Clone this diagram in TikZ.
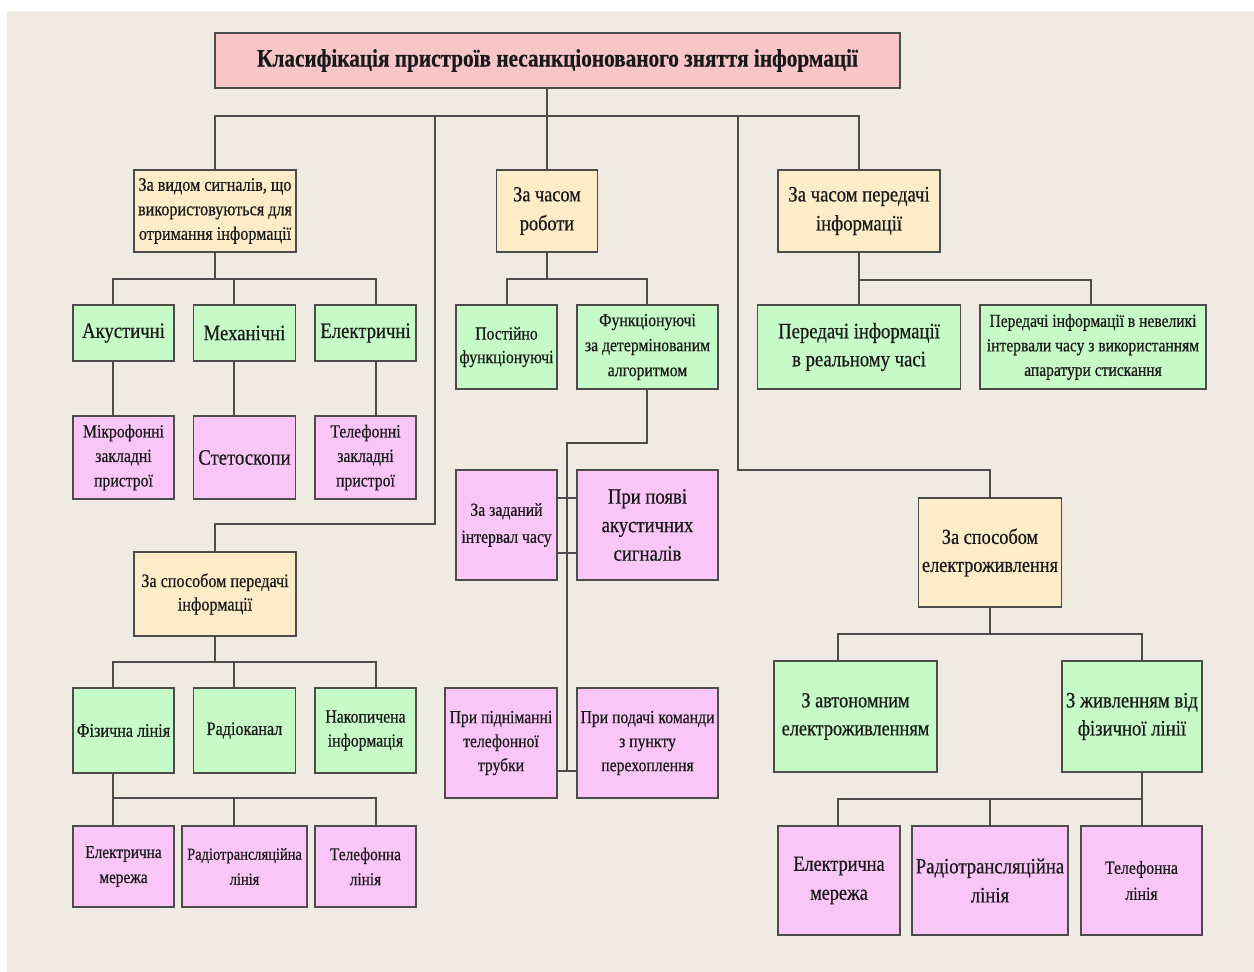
\documentclass[tikz,border=0pt]{standalone}
\usepackage{fontspec}
\setmainfont{Liberation Serif}[FakeStretch=0.85, FakeBold=0.5]
\usetikzlibrary{positioning}
\definecolor{bgcol}{HTML}{EFEBE3}
\definecolor{edge}{HTML}{4C4C4C}
\definecolor{headcol}{HTML}{F9C6C8}
\definecolor{catcol}{HTML}{FDECC8}
\definecolor{leafcol}{HTML}{C6FAC6}
\definecolor{devcol}{HTML}{F9C6F7}
\begin{document}
\begin{tikzpicture}[x=1pt, y=-1pt, node distance=121pt,
        main/.style = {draw=edge, line width=1.8pt, align=center, inner sep=1pt, text=black!90},
        head/.style = {main, fill=headcol},
        cat/.style = {main, fill=catcol},
        leaf/.style = {main, fill=leafcol},
        dev/.style = {main, fill=devcol},
        wh/.style 2 args = {minimum width=#1pt, minimum height=#2pt},
        fs/.style 2 args = {font=\fontsize{#1}{#2}\selectfont},
        link/.style = {draw=edge, line width=2pt}]
        \useasboundingbox (0,0) rectangle (1254,972);
        \fill[white] (0,0) rectangle (1254,972);
        \fill[bgcol] (7,11) rectangle (1254,972);

        \node[head, wh={685}{55}, fs={25}{28}] (t) at (557.5,60.5) {\bfseries Класифікація пристроїв несанкціонованого зняття інформації};

        % left column
        \node[cat, wh={162}{82}, fs={19}{24.5}] (c1) at (215,211) {За видом сигналів, що\\використовуються для\\отримання інформації};
        \node[leaf, wh={101}{56}, fs={22}{26}] (g11) at (123.5,333) {Акустичні};
        \node[leaf, wh={102}{56}, fs={22}{26}] (g12) [right of=g11] {Механічні};
        \node[leaf, wh={101}{56}, fs={22}{26}] (g13) [right of=g12] {Електричні};
        \node[dev, wh={101}{83}, fs={18.5}{24.5}] (v11) at (123.5,457.5) {Мікрофонні\\закладні\\пристрої};
        \node[dev, wh={102}{83}, fs={22}{26}] (v12) [right of=v11] {Стетоскопи};
        \node[dev, wh={101}{83}, fs={18.5}{24.5}] (v13) [right of=v12] {Телефонні\\закладні\\пристрої};

        \node[cat, wh={162}{84}, fs={19}{23.5}] (c4) at (215,594) {За способом передачі\\інформації};
        \node[leaf, wh={101}{85}, fs={19}{24}] (g41) at (123.5,730.5) {Фізична лінія};
        \node[leaf, wh={102}{85}, fs={19}{24}] (g42) [right of=g41] {Радіоканал};
        \node[leaf, wh={101}{85}, fs={18.5}{24}] (g43) [right of=g42] {Накопичена\\інформація};
        \node[dev, wh={101}{81}, fs={18}{25}] (v41) at (123.5,866.5) {Електрична\\мережа};
        \node[dev, wh={125}{81}, fs={17}{25}] (v42) at (244.5,866.5) {Радіотрансляційна\\лінія};
        \node[dev, wh={101}{81}, fs={18}{25}] (v43) at (365.5,866.5) {Телефонна\\лінія};

        % middle column
        \node[cat, wh={101}{82}, fs={21.5}{29}] (c2) at (547,211) {За часом\\роботи};
        \node[leaf, wh={101}{84}, fs={18.5}{23.5}] (g21) at (506.5,347) {Постійно\\функціонуючі};
        \node[leaf, wh={141}{84}, fs={18.5}{25}] (g22) at (647.5,347) {Функціонуючі\\за детермінованим\\алгоритмом};
        \node[dev, wh={101}{110}, fs={18.5}{27}] (v21) at (506.5,525) {За заданий\\інтервал часу};
        \node[dev, wh={141}{110}, fs={22}{28.5}] (v22) at (647.5,525) {При появі\\акустичних\\сигналів};
        \node[dev, wh={112}{110}, fs={18.4}{24}] (v23) at (501,743) {При підніманні\\телефонної\\трубки};
        \node[dev, wh={141}{110}, fs={18.5}{24}] (v24) at (647.5,743) {При подачі команди\\з пункту\\перехоплення};

        % right column
        \node[cat, wh={162}{82}, fs={22}{29}] (c3) at (859,211) {За часом передачі\\інформації};
        \node[leaf, wh={203}{84}, fs={22}{28}] (g31) at (859,347) {Передачі інформації\\в реальному часі};
        \node[leaf, wh={226}{84}, fs={18.3}{24.5}] (g32) at (1093,347) {Передачі інформації в невеликі\\інтервали часу з використанням\\апаратури стискання};

        \node[cat, wh={143}{109}, fs={21.5}{28}] (c5) at (990,552.5) {За способом\\електроживлення};
        \node[leaf, wh={163}{111}, fs={21.5}{28}] (g51) at (855.5,716.5) {З автономним\\електроживленням};
        \node[leaf, wh={140}{111}, fs={22}{28}] (g52) at (1132,716.5) {З живленням від\\фізичної лінії};
        \node[dev, wh={122}{109}, fs={21.5}{29}] (v51) at (839,880.5) {Електрична\\мережа};
        \node[dev, wh={156}{109}, fs={22}{29}] (v52) at (990,880.5) {Радіотрансляційна\\лінія};
        \node[dev, wh={121}{109}, fs={18.5}{26}] (v53) at (1141.5,880.5) {Телефонна\\лінія};

        \coordinate (k1) at (435,524);
        \coordinate (k2) at (738,470);
        \coordinate (k3) at (567,443);
        \coordinate (k4) at (567,771);

        % top level
        \foreach \n in {c1,c2,c3}{
            \draw[link] ([xshift=-10.5]t.south) -- ++(0,27) -| (\n.north);
        }
        \draw[link] ([xshift=-10.5]t.south) -- ++(0,27) -| (k1) -| (c4.north);
        \draw[link] ([xshift=-10.5]t.south) -- ++(0,27) -| (k2) -| (c5.north);

        % left
        \foreach \n/\d in {g11/-10.5,g12/-10.5,g13/10.5}{
            \draw[link] (c1.south) -- ++(0,26) -| ([xshift=\d]\n.north);
        }
        \foreach \g/\v/\d in {g11/v11/-10.5,g12/v12/-10.5,g13/v13/10.5}{
            \draw[link] ([xshift=\d]\g.south) -- ([xshift=\d]\v.north);
        }
        \foreach \n/\d in {g41/-10.5,g42/-10.5,g43/10.5}{
            \draw[link] (c4.south) -- ++(0,25) -| ([xshift=\d]\n.north);
        }
        \foreach \n/\d in {v41/-10.5,v42/-10.5,v43/10.5}{
            \draw[link] ([xshift=-10.5]g41.south) -- ++(0,24) -| ([xshift=\d]\n.north);
        }

        % middle
        \foreach \n/\d in {g21/0.5,g22/-0.5}{
            \draw[link] (c2.south) -- ++(0,26) -| ([xshift=\d]\n.north);
        }
        \draw[link] ([xshift=-0.5]g22.south) |- (k3) -- (k4);
        \draw[link] ([yshift=27]v21.east) -- ([yshift=27]v22.west);
        \draw[link] ([yshift=-28]v21.east) -- ([yshift=-28]v22.west);
        \draw[link] ([yshift=-28]v23.east) -- ([yshift=-28]v24.west);

        % right
        \foreach \n/\d in {g31/0,g32/-2}{
            \draw[link] (c3.south) -- ++(0,27) -| ([xshift=\d]\n.north);
        }
        \foreach \n/\d in {g51/-17.5,g52/10}{
            \draw[link] (c5.south) -- ++(0,26) -| ([xshift=\d]\n.north);
        }
        \foreach \n/\d in {v51/-1,v52/0,v53/0.5}{
            \draw[link] ([xshift=10]g52.south) -- ++(0,26) -| ([xshift=\d]\n.north);
        }
    \end{tikzpicture}
\end{document}
